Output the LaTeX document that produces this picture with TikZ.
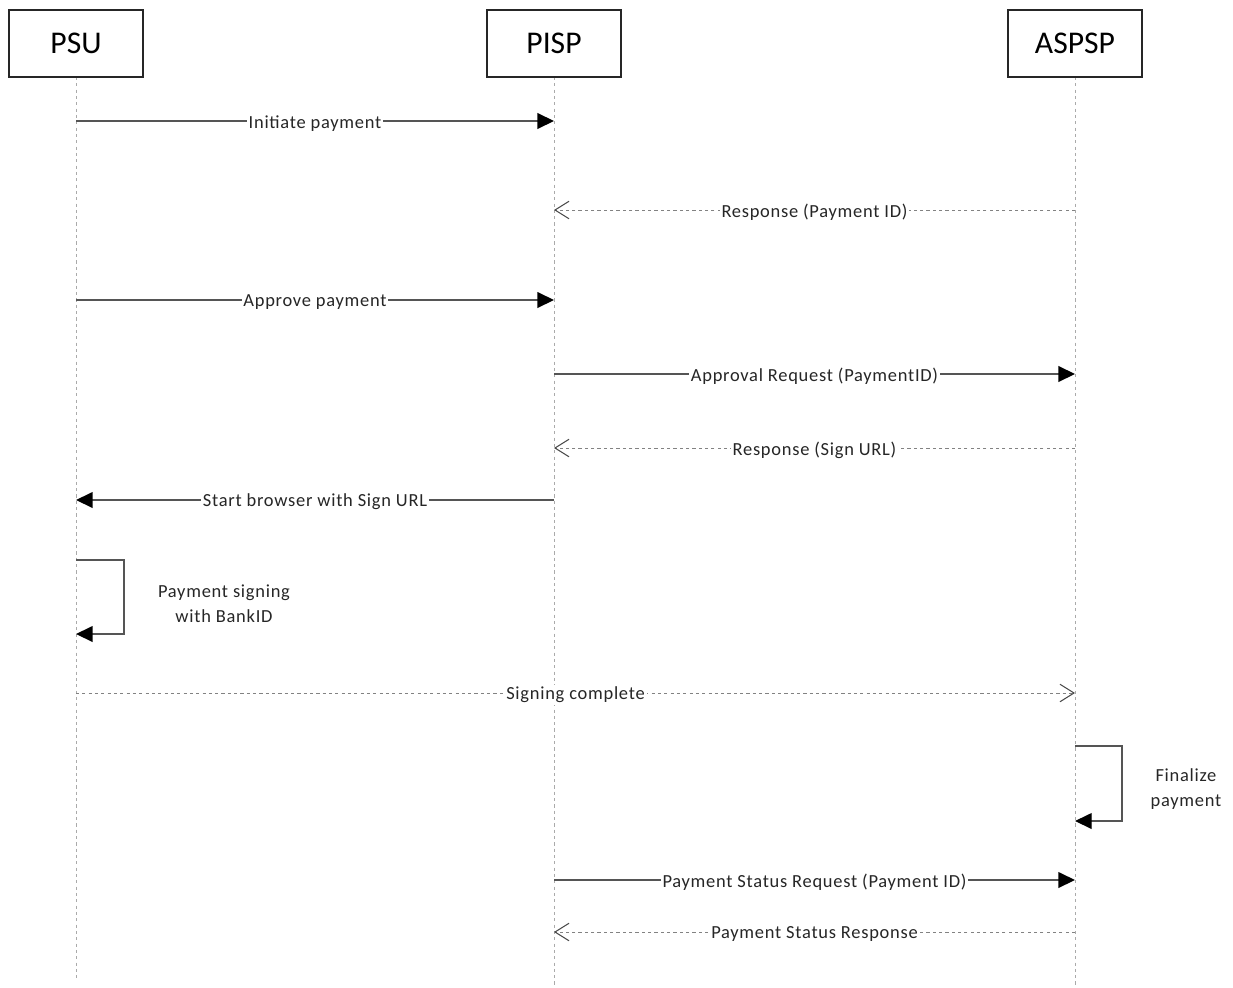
\documentclass[tikz,border=0pt]{standalone}
\usepackage{fontspec}
\setmainfont{Carlito}
\newfontfamily\lblfont[LetterSpace=4]{Carlito}
\usetikzlibrary{arrows.meta,positioning,calc}
\definecolor{lifegray}{RGB}{170,170,170}
\definecolor{msggray}{RGB}{85,85,85}
\definecolor{respgray}{RGB}{130,130,130}

\begin{document}
\begin{tikzpicture}[
    x=0.02cm, y=-0.02cm,
    actor/.style={rectangle, draw=black!85, line width=0.9pt, fill=white,
                  minimum width=2.68cm, minimum height=1.34cm, font=\fontsize{18}{21}\selectfont},
    lifeline/.style={draw=lifegray, line width=0.5pt, dash pattern=on 1.8pt off 1.8pt},
    msg/.style={draw=msggray, line width=0.8pt, -{Triangle[length=9.5pt,width=9pt,color=black]}},
    resp/.style={draw=respgray, line width=0.5pt, dash pattern=on 1.8pt off 1.8pt,
                 -{Straight Barb[length=8pt,width=10pt,line width=0.6pt,color=black!70]}},
    lbl/.style={fill=white, inner sep=1pt, yshift=-1.2pt, font=\lblfont\fontsize{10.5}{12}\selectfont, text=black!85},
    note/.style={align=center, font=\lblfont\fontsize{10.5}{14}\selectfont, text=black!85}
]
\useasboundingbox (0,0) rectangle (1233,987);

% lifelines
\draw[lifeline] (76,77) coordinate (psu-top) -- (76,980) coordinate (psu-end);
\draw[lifeline] (554,77) coordinate (pisp-top) -- (554,987) coordinate (pisp-end);
\draw[lifeline] (1075,77) coordinate (aspsp-top) -- (1075,987) coordinate (aspsp-end);

% actors
\node[actor] (psu) at (76,43.5) {PSU};
\node[actor] (pisp) at (554,43.5) {PISP};
\node[actor] (aspsp) at (1075,43.5) {ASPSP};

% message rows
\coordinate (r1) at (0,121);
\coordinate (r2) at (0,210);
\coordinate (r3) at (0,300);
\coordinate (r4) at (0,374);
\coordinate (r5) at (0,448);
\coordinate (r6) at (0,500);
\coordinate (r7) at (0,560);
\coordinate (r7b) at (0,634);
\coordinate (r8) at (0,693);
\coordinate (r9) at (0,746);
\coordinate (r9b) at (0,821);
\coordinate (r10) at (0,880);
\coordinate (r11) at (0,932);

\draw[msg] (psu |- r1) -- node[lbl] {Initiate payment} (pisp |- r1);
\draw[resp] (aspsp |- r2) -- node[lbl] {Response (Payment ID)} (pisp |- r2);
\draw[msg] (psu |- r3) -- node[lbl] {Approve payment} (pisp |- r3);
\draw[msg] (pisp |- r4) -- node[lbl] {Approval Request (PaymentID)} (aspsp |- r4);
\draw[resp] (aspsp |- r5) -- node[lbl] {Response (Sign URL)} (pisp |- r5);
\draw[msg] (pisp |- r6) -- node[lbl] {Start browser with Sign URL} (psu |- r6);

% payment signing
\draw[msg] (psu |- r7) -- ++(48,0) |- (psu |- r7b);
\node[note] (signing) at (224,604) {Payment signing\\with BankID};

\draw[resp] (psu |- r8) -- node[lbl] {Signing complete} (aspsp |- r8);

% finalize
\draw[msg] (aspsp |- r9) -- ++(47,0) |- (aspsp |- r9b);
\node[note] (finalize) at (1186,789) {Finalize\\payment};

\draw[msg] (pisp |- r10) -- node[lbl] {Payment Status Request (Payment ID)} (aspsp |- r10);
\draw[resp] (aspsp |- r11) -- node[lbl] {Payment Status Response} (pisp |- r11);

\end{tikzpicture}
\end{document}
